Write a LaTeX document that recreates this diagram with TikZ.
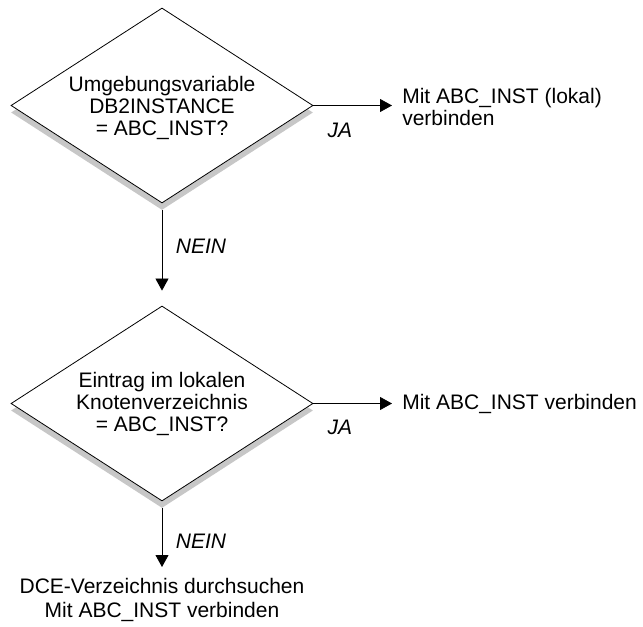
\documentclass[tikz,border=0pt]{standalone}
\usepackage{fontspec}
\setmainfont{Liberation Sans}
\usetikzlibrary{shapes.geometric,shadows,arrows.meta}
\tikzset{
  txt/.style={font=\fontsize{15.75}{16.5}\selectfont},
  answer/.style={font=\fontsize{15.75}{16.5}\selectfont\itshape, inner sep=0pt},
  decision/.style={diamond, draw, fill=white, line width=0.6pt, txt, align=center,
    aspect=1.53, inner sep=0pt, minimum width=226.5pt, minimum height=146.25pt,
    drop shadow={shadow xshift=0pt, shadow yshift=-5.25pt, fill=black!22, opacity=1}},
  flow/.style={line width=0.6pt, -{Triangle[length=9pt, width=9.75pt]}}
}

\begin{document}
\begin{tikzpicture}[x=0.75pt, y=-0.75pt]
	%%%%% START %%%%%
	\useasboundingbox (0, 0) rectangle (643, 627);
	
	\node[decision] (q1) at (162, 105.5) {\rule{0pt}{15pt}Umgebungsvariable\\DB2INSTANCE\\= ABC\_INST?};
	\node[txt, anchor=west, align=left, inner xsep=7.5pt, inner ysep=0pt] (r1) at (392, 107) {Mit ABC\_INST (lokal)\\verbinden};
	\draw[flow] (q1.east) -- (q1.east -| r1.west);
	\node[answer] (ja1) at (340, 130) {JA};
	
	\node[decision] (q2) at (162, 403.5) {Eintrag im lokalen\\Knotenverzeichnis\\= ABC\_INST?};
	\draw[flow] ([yshift=-5.25pt]q1.south) -- ([yshift=11.25pt]q2.north);
	\node[answer] (nein1) at (201, 246) {NEIN};
	
	\node[txt, anchor=west, inner xsep=7.5pt, inner ysep=0pt] (r2) at (392, 403.5) {Mit ABC\_INST verbinden};
	\draw[flow] (q2.east) -- (q2.east -| r2.west);
	\node[answer] (ja2) at (340, 427) {JA};
	
	\node[txt, anchor=north, align=center, inner sep=8pt, font=\fontsize{15.75}{18}\selectfont] (d) at (162, 567) {DCE-Verzeichnis durchsuchen\\Mit ABC\_INST verbinden};
	\draw[flow] ([yshift=-5.25pt]q2.south) -- (d.north);
	\node[answer] (nein2) at (201, 541) {NEIN};
	
	%%%%% END %%%%%
\end{tikzpicture}
\end{document}
